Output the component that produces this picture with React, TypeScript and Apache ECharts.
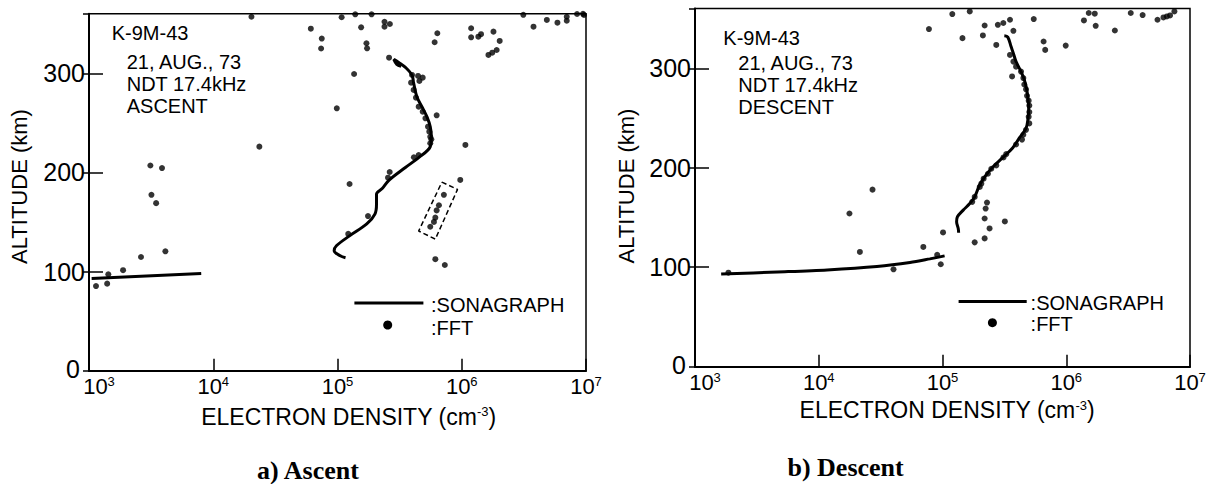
import React, { useEffect, useRef } from "react";
import * as echarts from "echarts";

const FONT = "'Liberation Sans', Arial, sans-serif";
const SERIF = "'Liberation Serif', 'Times New Roman', serif";

const xTickExponents = [3, 4, 5, 6, 7];
const yTicks = [0, 100, 200, 300];
const yMax = 360;

const annotationLines = ["K-9M-43", "21, AUG., 73", "NDT 17.4kHz"];
const panelModes = ["ASCENT", "DESCENT"];
const captions = ["a) Ascent", "b) Descent"];
const legendLabels = [":SONAGRAPH", ":FFT"];

// ---- a) Ascent ----
const ascentLowerLine = [
  [1050, 93], [8000, 98],
];
const ascentUpperLine = [
  [1.16e5, 114], [1.05e5, 116], [9.4e4, 121], [9.8e4, 126], [1.25e5, 136], [1.72e5, 148],
  [2.0e5, 158], [2.06e5, 168], [2.06e5, 178], [2.3e5, 184], [2.59e5, 192], [3.52e5, 205],
  [4.5e5, 215], [5.58e5, 226], [5.69e5, 236], [5.58e5, 246], [5.25e5, 256], [4.79e5, 266],
  [4.36e5, 276], [4.1e5, 290], [3.98e5, 298], [3.52e5, 306], [3.11e5, 311], [2.84e5, 314],
  [3.0e5, 309], [3.25e5, 307],
];
const ascentFFT = [
  [2.03e4, 357], [6.1e4, 345], [7.47e4, 335], [7.38e4, 325], [1.08e5, 356.5], [1.39e5, 359.5],
  [1.88e5, 359.5], [1.55e5, 346.4], [2.39e5, 352], [2.39e5, 347], [2.64e5, 349.7], [1.71e5, 330.3],
  [1.73e5, 325.2], [2.6e5, 315.7], [1.36e5, 299.3], [9.87e4, 264.7], [1.25e5, 188.3], [2.35e4, 226],
  [6.36e5, 340.4], [6.05e5, 331.3], [6.28e5, 257.6], [1.07e6, 227.7], [9.73e5, 192.4],
  [1.19e6, 345.4], [1.19e6, 336.3], [1.36e6, 336.9], [1.43e6, 339.4], [1.8e6, 342], [2.02e6, 332.6],
  [1.64e6, 318.5], [1.76e6, 320.8], [1.91e6, 323.5],
  [3.13e6, 359], [3.78e6, 347], [4.84e6, 353.8], [5.89e6, 351], [7.0e6, 357], [7.0e6, 353],
  [8.47e6, 359.8], [9.46e6, 360], [9.64e6, 358.8],
  [3.98e5, 298.3], [4.45e5, 297.3], [4.85e5, 295.6], [4.56e5, 292.2], [3.91e5, 290.5], [4.1e5, 283.2],
  [4.28e5, 275.4], [4.5e5, 266.3], [4.85e5, 261.3], [5.1e5, 254.6], [5.35e5, 246.1], [5.48e5, 241.1],
  [5.58e5, 236], [5.69e5, 233.4], [5.58e5, 229.4], [4.5e5, 217.6], [4.12e5, 215.3], [2.63e5, 200.4],
  [2.55e5, 194.7], [1.76e5, 156], [1.22e5, 138],
  [7.18e5, 177.4], [6.55e5, 166.9], [6.28e5, 161.7], [6.13e5, 154.4], [5.97e5, 150.1], [5.58e5, 145.2],
  [6.13e5, 112.5], [7.31e5, 106.6],
  [3.12e3, 207], [3.87e3, 204.4], [3.18e3, 177.4], [3.47e3, 169], [4.12e3, 120.4], [2.62e3, 114.7],
  [1880, 101.4], [1430, 97.2], [1138, 85.4], [1400, 87.8],
];
const ascentBox = [
  [6.92e5, 190.2], [9.25e5, 182.9], [6.13e5, 132.7], [4.5e5, 140.9], [6.92e5, 190.2],
];

// ---- b) Descent ----
const descentLowerLine = [
  [1627, 93.1], [4640, 95.2], [1.17e4, 97.3], [2.95e4, 100.7], [5.46e4, 104.7], [7.9e4, 108.4],
  [1.04e5, 111.4],
];
const descentUpperLine = [
  [1.35e5, 134.7], [1.34e5, 139], [1.3e5, 145.7], [1.32e5, 150.7], [1.47e5, 157.4], [1.66e5, 164],
  [1.82e5, 170.7], [1.99e5, 182.4], [2.19e5, 190.7], [2.55e5, 200.7], [3.08e5, 210.4], [3.7e5, 220.2],
  [4.18e5, 230], [4.73e5, 239.7], [4.91e5, 249.5], [4.97e5, 259.3], [4.91e5, 269], [4.79e5, 278.8],
  [4.58e5, 288.6], [4.31e5, 296.7], [3.93e5, 306.7], [3.74e5, 315], [3.58e5, 321.8], [3.37e5, 331.3],
  [3.16e5, 332.6],
];
const descentFFT = [
  [7.77e4, 339.4], [1.2e5, 354.5], [1.66e5, 357.2], [1.45e5, 330.3], [2.19e5, 343], [2.12e5, 333],
  [2.8e5, 343.7], [3.1e5, 345.5], [3.51e5, 348.8], [2.72e5, 323.5], [3.74e5, 337.7], [5.46e5, 349.5],
  [6.56e5, 326.9], [6.76e5, 318.5], [9.9e5, 322.8], [1.39e6, 348.1], [1.52e6, 355.6], [1.7e6, 354.9],
  [1.73e6, 342.7], [2.47e6, 338], [3.32e6, 355.6], [4.14e6, 353.5], [5.46e6, 348.8], [6.1e6, 351.1],
  [6.5e6, 352.1], [6.9e6, 353.1], [7.48e6, 357.2], [3.65e5, 291.8],
  [3.51e5, 313.4], [3.74e5, 306.7], [3.93e5, 301.6], [4.31e5, 296.7], [4.5e5, 290.2], [4.58e5, 283.7],
  [4.73e5, 278.8], [4.82e5, 272.3], [4.97e5, 267.4], [5.03e5, 262.5], [5.03e5, 256], [4.97e5, 251.2],
  [5.03e5, 244.6], [4.73e5, 238.1], [4.5e5, 233.2], [4.39e5, 228.3], [3.93e5, 223.4], [3.27e5, 213.7],
  [3.11e5, 210.4], [2.72e5, 202.3], [2.48e5, 199], [2.33e5, 194], [2.15e5, 189], [2.06e5, 184],
  [2.0e5, 180.7], [1.82e5, 170.7], [1.74e5, 165.7],
  [2.29e5, 165], [2.23e5, 159], [2.19e5, 149], [2.4e5, 139], [3.19e5, 146], [1.01e5, 135],
  [1.82e5, 125], [2.19e5, 129], [7.0e4, 120.4], [9.06e4, 112.4], [9.68e4, 103], [2.72e4, 178],
  [1.77e4, 154], [2.15e4, 115.4], [4.02e4, 97.9], [1862, 94.5],
];

const grids = [
  { left: 89, top: 13.8, width: 497, height: 356.9 },
  { left: 695, top: 8.6, width: 495, height: 358.1 },
];

function makeXAxis(gridIndex: number) {
  return {
    type: "log",
    logBase: 10,
    min: 1e3,
    max: 1e7,
    gridIndex,
    axisLine: { show: true, onZero: false, lineStyle: { color: "#000", width: 2 } },
    axisTick: { show: true, inside: true, length: 12, lineStyle: { color: "#000", width: 1.5 } },
    minorTick: { show: false },
    splitLine: { show: false },
    axisLabel: {
      margin: 4,
      color: "#000",
      showMinLabel: true,
      showMaxLabel: true,
      formatter: (v: number) => {
        const e = Math.round(Math.log10(v));
        const i = xTickExponents.indexOf(e);
        if (i < 0) return "";
        return (i === 0 ? "{f|10}" : "{b|10}") + "{s|" + xTickExponents[i] + "}";
      },
      rich: {
        b: { fontSize: 22, fontFamily: FONT, color: "#000", lineHeight: 24 },
        f: { fontSize: 22, fontFamily: FONT, color: "#000", lineHeight: 24, padding: [0, 0, 0, 20] },
        s: { fontSize: 13, fontFamily: FONT, color: "#000", verticalAlign: "top", lineHeight: 14 },
      },
    },
  };
}

function makeYAxis(gridIndex: number) {
  return {
    type: "value",
    min: 0,
    max: yMax,
    interval: 100,
    gridIndex,
    axisLine: { show: true, lineStyle: { color: "#000", width: 2 } },
    axisTick: { show: true, inside: true, length: 14, lineStyle: { color: "#000", width: 1.5 } },
    splitLine: { show: false },
    axisLabel: {
      color: "#000",
      margin: 4,
      showMaxLabel: false,
      formatter: (v: number) => {
        if (yTicks.indexOf(v) < 0) return "";
        return v === 0 ? "{z|0}" : "{n|" + v + "}";
      },
      rich: {
        n: { fontSize: 25, fontFamily: FONT, color: "#000" },
        z: { fontSize: 25, fontFamily: FONT, color: "#000", padding: [0, 5, 4, 0] },
      },
    },
  };
}

function makeOuterTickAxis(gridIndex: number) {
  return {
    type: "value",
    min: 0,
    max: yMax,
    interval: 100,
    gridIndex,
    position: "left",
    axisLine: { show: false },
    axisTick: { show: true, inside: false, length: 6, lineStyle: { color: "#000", width: 1.5 } },
    axisLabel: { show: false },
    splitLine: { show: false },
  };
}

function lineSeries(idx: number, data: number[][], smooth: number | boolean) {
  return {
    type: "line",
    xAxisIndex: idx,
    yAxisIndex: idx,
    data,
    symbol: "none",
    smooth,
    clip: false,
    lineStyle: { color: "#000", width: 3 },
    z: 3,
  };
}

function fftSeries(idx: number, data: number[][]) {
  return {
    type: "scatter",
    xAxisIndex: idx,
    yAxisIndex: idx,
    data,
    symbol: "circle",
    symbolSize: 6,
    clip: false,
    itemStyle: { color: "#000" },
    z: 4,
  };
}

function text(x: number, y: number, t: string, size: number, extra: any = {}) {
  return {
    type: "text",
    x,
    y,
    style: {
      text: t,
      fontSize: size,
      fontFamily: FONT,
      fill: "#000",
      align: "left",
      verticalAlign: "middle",
      ...extra,
    },
    z: 10,
  };
}

function panelGraphics(p: number) {
  const ann = p === 0
    ? { kx: 111.7, ky: 32.5, lx: 126.7, ly: [61.5, 84, 105.8] }
    : { kx: 723.3, ky: 37.5, lx: 738.3, ly: [62.5, 85, 106.7] };
  const leg = p === 0
    ? { x1: 354.4, x2: 423.4, ly: 303, dx: 387.7, dy: 325, tx: 431, t1: 305, t2: 327.5 }
    : { x1: 958.6, x2: 1026.7, ly: 301.5, dx: 992.4, dy: 322.7, tx: 1030.6, t1: 302.5, t2: 324 };
  const names = p === 0
    ? { ax: 19, ay: 186.5, ex: 348.6, ey: 416.5, cx: 308, cy: 470 }
    : { ax: 626.5, ay: 186, ex: 947, ey: 410, cx: 845.6, cy: 467 };
  return [
    text(ann.kx, ann.ky, annotationLines[0], 20),
    text(ann.lx, ann.ly[0], annotationLines[1], 20),
    text(ann.lx, ann.ly[1], annotationLines[2], 20),
    text(ann.lx, ann.ly[2], panelModes[p], 20),
    {
      type: "line",
      shape: { x1: leg.x1, y1: leg.ly, x2: leg.x2, y2: leg.ly },
      style: { stroke: "#000", lineWidth: 3 },
      z: 10,
    },
    { type: "circle", shape: { cx: leg.dx, cy: leg.dy, r: 4.5 }, style: { fill: "#000" }, z: 10 },
    text(leg.tx, leg.t1, legendLabels[0], 20),
    text(leg.tx, leg.t2, legendLabels[1], 20),
    {
      type: "text",
      x: names.ax,
      y: names.ay,
      rotation: Math.PI / 2,
      style: {
        text: "ALTITUDE (km)",
        fontSize: 22,
        fontFamily: FONT,
        fill: "#000",
        align: "center",
        verticalAlign: "middle",
      },
      z: 10,
    },
    {
      type: "text",
      x: names.ex,
      y: names.ey,
      style: {
        text: "ELECTRON DENSITY (cm{sup|-3})",
        fontSize: 23,
        fontFamily: FONT,
        fill: "#000",
        align: "center",
        verticalAlign: "middle",
        rich: {
          sup: { fontSize: 13, fontFamily: FONT, fill: "#000", verticalAlign: "top", lineHeight: 14 },
        },
      },
      z: 10,
    },
    {
      type: "text",
      x: names.cx,
      y: names.cy,
      style: {
        text: captions[p],
        fontSize: 26,
        fontFamily: SERIF,
        fontWeight: "bold",
        fill: "#000",
        align: "center",
        verticalAlign: "middle",
      },
      z: 10,
    },
  ];
}

export default function App() {
  const ref = useRef<HTMLDivElement>(null);
  useEffect(() => {
    document.body.style.margin = "0";
    const chart = echarts.init(ref.current as HTMLDivElement, null, { renderer: "svg" });
    chart.setOption({
      animation: false,
      backgroundColor: "#fff",
      grid: grids.map((g) => ({
        ...g,
        show: true,
        borderColor: "#000",
        borderWidth: 1.5,
        backgroundColor: "transparent",
        containLabel: false,
      })),
      xAxis: [makeXAxis(0), makeXAxis(1)],
      yAxis: [makeYAxis(0), makeYAxis(1), makeOuterTickAxis(0), makeOuterTickAxis(1)],
      series: [
        lineSeries(0, ascentLowerLine, false),
        lineSeries(0, ascentUpperLine, 0.35),
        fftSeries(0, ascentFFT),
        {
          type: "line",
          xAxisIndex: 0,
          yAxisIndex: 0,
          data: ascentBox,
          symbol: "none",
          clip: false,
          lineStyle: { color: "#000", width: 1.5, type: [5, 3] },
          z: 3,
        },
        lineSeries(1, descentLowerLine, 0.3),
        lineSeries(1, descentUpperLine, 0.35),
        fftSeries(1, descentFFT),
      ],
      graphic: [...panelGraphics(0), ...panelGraphics(1)],
    });
    return () => chart.dispose();
  }, []);
  return (
    <div
      ref={ref}
      style={{ position: "absolute", left: 0, top: 0, width: 1215, height: 484, background: "#fff" }}
    />
  );
}
